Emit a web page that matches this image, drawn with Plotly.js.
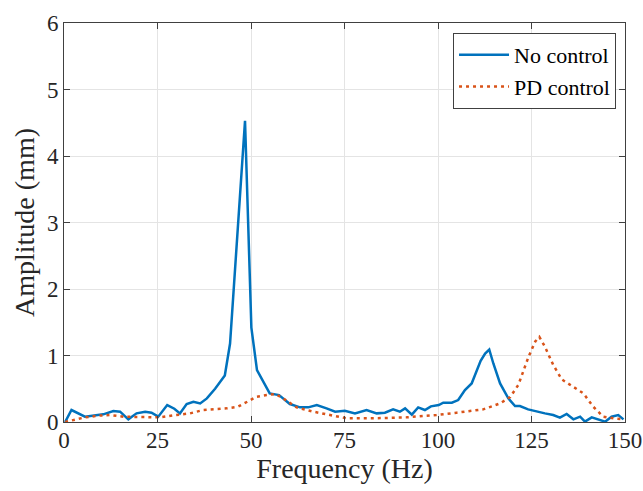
<!DOCTYPE html>
<html>
<head>
<meta charset="utf-8">
<script src="https://cdn.plot.ly/plotly-3.0.1.min.js"></script>
<style>html,body{margin:0;padding:0;background:#fff;}#chart{width:643px;height:491px;}</style>
</head>
<body>
<div id="chart"></div>
<script>
// No control series
const freqNoControl = [0.3,2,5.6,8.3,10.5,13.2,15,17.2,19.4,21.7,23.4,25.2,27.6,29.5,31,32.8,34.6,36.4,38.2,40.4,43,44.4,48.4,50.1,51.6,55,57.5,60.4,63.1,65.3,67.6,70.2,72.5,75.1,77.8,80.9,83.6,85.8,88,89.8,91.2,93,94.7,96.5,98.1,100.2,101.4,103.7,105.4,107.2,109,111.4,112.6,113.7,114.8,116.6,118.8,120.6,121.9,124.1,126.4,128.6,130.8,132.6,134.4,136.2,138,139.3,141.1,142.9,144.7,146.4,148.2,149.6];
const ampNoControl = [0,0.18,0.08,0.10,0.115,0.165,0.155,0.04,0.13,0.155,0.14,0.08,0.255,0.2,0.13,0.27,0.305,0.28,0.355,0.5,0.7,1.18,4.53,1.42,0.78,0.43,0.405,0.27,0.22,0.22,0.255,0.205,0.155,0.17,0.13,0.18,0.13,0.14,0.19,0.155,0.205,0.11,0.22,0.18,0.235,0.255,0.29,0.29,0.33,0.48,0.58,0.92,1.03,1.09,0.88,0.58,0.355,0.24,0.24,0.19,0.155,0.13,0.105,0.065,0.12,0.04,0.08,0.005,0.07,0.04,0.005,0.08,0.105,0.04];
// PD control series
const freqPD = [0.3,2.5,5.6,9.2,12.3,15.9,18.5,22.1,25.7,29.2,33.7,37.2,39.9,43.5,46.5,49.7,51.5,54.2,56.5,58.6,62.2,66.7,71.1,75.6,82.7,91.6,96,99.6,105,112.1,116.6,119.3,121.5,124.2,126,127.1,128.6,130.8,133.1,136.2,138.9,141.5,144.2,146.9,149.6];
const ampPD = [0,0.03,0.07,0.095,0.105,0.08,0.08,0.08,0.07,0.1,0.13,0.18,0.19,0.205,0.23,0.33,0.38,0.405,0.42,0.355,0.22,0.155,0.105,0.055,0.055,0.07,0.09,0.105,0.14,0.19,0.28,0.375,0.56,0.98,1.21,1.28,1.13,0.86,0.64,0.53,0.43,0.23,0.08,0.055,0.04];
const xTicks = [0,25,50,75,100,125,150];
const yTicks = [0,1,2,3,4,5,6];

const fontFam = 'Liberation Serif, DejaVu Serif, serif';
const traces = [
  {x: freqNoControl, y: ampNoControl, type: 'scatter', mode: 'lines', name: 'No control',
   line: {color: '#0072BD', width: 2.5}},
  {x: freqPD, y: ampPD, type: 'scatter', mode: 'lines', name: 'PD control',
   line: {color: '#D95319', width: 2.5, dash: '3px,4px'}}
];
const axisCommon = {
  showline: true, mirror: 'ticks', linecolor: '#404040', linewidth: 1,
  ticks: 'inside', ticklen: 6, tickcolor: '#404040', tickwidth: 1,
  showgrid: true, gridcolor: '#e4e4e4', gridwidth: 1, zeroline: false,
  tickfont: {family: fontFam, size: 23, color: '#262626'}
};
const layout = {
  width: 643, height: 491,
  margin: {l: 64, r: 18, t: 23, b: 69},
  paper_bgcolor: '#fff', plot_bgcolor: '#fff',
  showlegend: true,
  legend: {x: 0.984, y: 0.975, xanchor: 'right', yanchor: 'top',
    bordercolor: '#404040', borderwidth: 1, bgcolor: '#fff', itemwidth: 50,
    font: {family: fontFam, size: 22, color: '#000'}, tracegroupgap: 0},
  xaxis: Object.assign({}, axisCommon, {range: [0, 150], tickvals: xTicks, ticktext: xTicks.map(String),
    ticklabelstandoff: -3,
    title: {text: 'Frequency (Hz)', font: {family: fontFam, size: 28, color: '#262626'}, standoff: 0}}),
  yaxis: Object.assign({}, axisCommon, {range: [0, 6], tickvals: yTicks, ticktext: yTicks.map(String),
    title: {text: 'Amplitude (mm)', font: {family: fontFam, size: 28, color: '#262626'}, standoff: 4}})
};
Plotly.newPlot('chart', traces, layout, {staticPlot: true, displayModeBar: false});
</script>
</body>
</html>
